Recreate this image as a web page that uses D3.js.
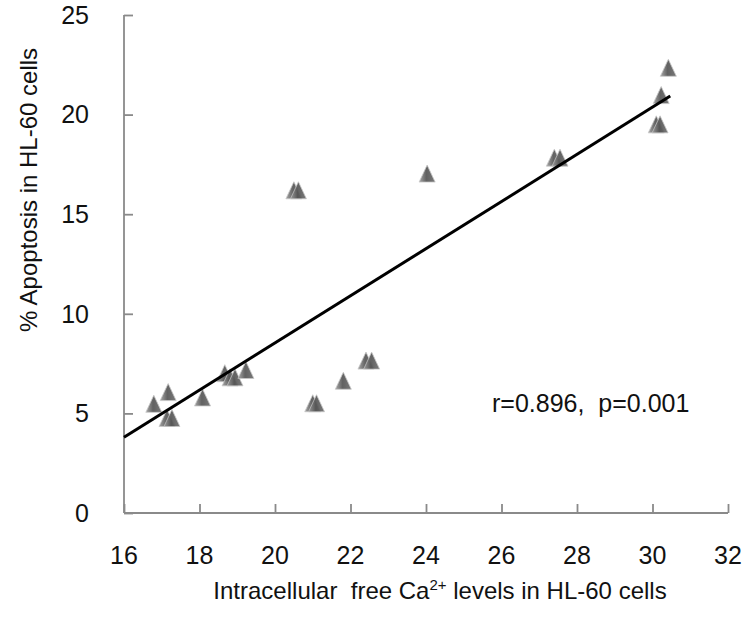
<!DOCTYPE html>
<html>
<head>
<meta charset="utf-8">
<script src="https://cdn.jsdelivr.net/npm/d3@7"></script>
<style>
  html, body { margin: 0; padding: 0; background: #fff; }
  svg { display: block; font-family: "Liberation Sans", Arial, sans-serif; }
  text { white-space: pre; }
</style>
</head>
<body>
<svg id="chart" width="744" height="619"></svg>
<script>
// Intracellular free Ca2+ (x) vs % apoptosis (y)
const caLevels  = [16.79, 17.17, 17.14, 17.27, 18.08, 18.67, 18.81, 18.94, 19.23, 20.50, 20.62,
                   21.00, 21.10, 21.81, 22.41, 22.56, 24.03, 27.40, 27.55, 30.10, 30.20, 30.23, 30.42];
const apoptosis = [5.48, 6.07, 4.77, 4.77, 5.80, 7.02, 6.81, 6.81, 7.18, 16.20, 16.20,
                   5.51, 5.51, 6.64, 7.65, 7.65, 17.04, 17.84, 17.84, 19.51, 19.51, 20.98, 22.35];
const trendX = [16, 30.47];
const trendY = [3.8, 20.93];
const xTicks = [16, 18, 20, 22, 24, 26, 28, 30, 32];
const yTicks = [0, 5, 10, 15, 20, 25];
const xTitle = ["Intracellular  free Ca", "2+", " levels in HL-60 cells"];
const yTitle = "% Apoptosis in HL-60 cells";
const annotation = "r=0.896,  p=0.001";

const svg = d3.select("#chart");
const x = d3.scaleLinear().domain([16, 32]).range([124, 728]);
const y = d3.scaleLinear().domain([0, 25]).range([513, 15]);
const axisColor = "#8a8a8a";

// gradient for triangle markers
const defs = svg.append("defs");
const grad = defs.append("linearGradient").attr("id", "tri").attr("x1", "0").attr("x2", "1").attr("y1", "0").attr("y2", "0");
grad.append("stop").attr("offset", "0%").attr("stop-color", "#a0a0a0");
grad.append("stop").attr("offset", "45%").attr("stop-color", "#555555");
grad.append("stop").attr("offset", "100%").attr("stop-color", "#6e6e6e");

// axes
const yAxis = d3.axisRight(y).tickValues(yTicks).tickSize(9).tickFormat("");
const xAxis = d3.axisTop(x).tickValues(xTicks).tickSize(9).tickFormat("");
const gy = svg.append("g").attr("transform", `translate(${x(16)},0)`).call(yAxis);
const gx = svg.append("g").attr("transform", `translate(0,${y(0)})`).call(xAxis);
[gx, gy].forEach(g => {
  g.select(".domain").attr("stroke", axisColor).attr("stroke-width", 1.8);
  g.selectAll(".tick line").attr("stroke", axisColor).attr("stroke-width", 1.8);
});
gx.select(".domain").attr("d", `M${x(16)},0H${x(32)}`);
gy.select(".domain").attr("d", `M0,${y(0)}V${y(25)}`);

// tick labels
svg.append("g").selectAll("text").data(yTicks).join("text")
  .attr("x", 89).attr("y", d => y(d)).attr("dy", "0.35em")
  .attr("text-anchor", "end").attr("font-size", 25).attr("fill", "#111")
  .text(d => d);
svg.append("g").selectAll("text").data(xTicks).join("text")
  .attr("x", d => x(d)).attr("y", 564)
  .attr("text-anchor", "middle").attr("font-size", 25).attr("fill", "#111")
  .text(d => d);

// axis titles
const xt = svg.append("text").attr("x", 440).attr("y", 599).attr("text-anchor", "middle")
  .attr("font-size", 24).attr("fill", "#111");
xt.append("tspan").text(xTitle[0]);
xt.append("tspan").attr("font-size", 15).attr("dy", -9).text(xTitle[1]);
xt.append("tspan").attr("dy", 9).text(xTitle[2]);

svg.append("text").attr("transform", `translate(37,190) rotate(-90)`)
  .attr("text-anchor", "middle").attr("font-size", 24).attr("fill", "#111")
  .text(yTitle);

// markers
const W = 16, H = 17;
const pts = caLevels.map((c, i) => [c, apoptosis[i]]);
svg.append("g").selectAll("path").data(pts).join("path")
  .attr("d", d => {
    const cx = x(d[0]), cy = y(d[1]);
    return `M${cx},${cy - H / 2}L${cx + W / 2},${cy + H / 2}L${cx - W / 2},${cy + H / 2}Z`;
  })
  .attr("fill", "url(#tri)")
  .attr("stroke", "#c4c4c4").attr("stroke-width", 0.8)
  .attr("opacity", 0.92);

// trend line
const line = d3.line().x(d => x(d[0])).y(d => y(d[1]));
svg.append("path").datum(trendX.map((v, i) => [v, trendY[i]]))
  .attr("d", line).attr("fill", "none").attr("stroke", "#000").attr("stroke-width", 3);

// annotation
svg.append("text").attr("x", 492).attr("y", 412).attr("font-size", 25).attr("fill", "#111")
  .text(annotation);
</script>
</body>
</html>
